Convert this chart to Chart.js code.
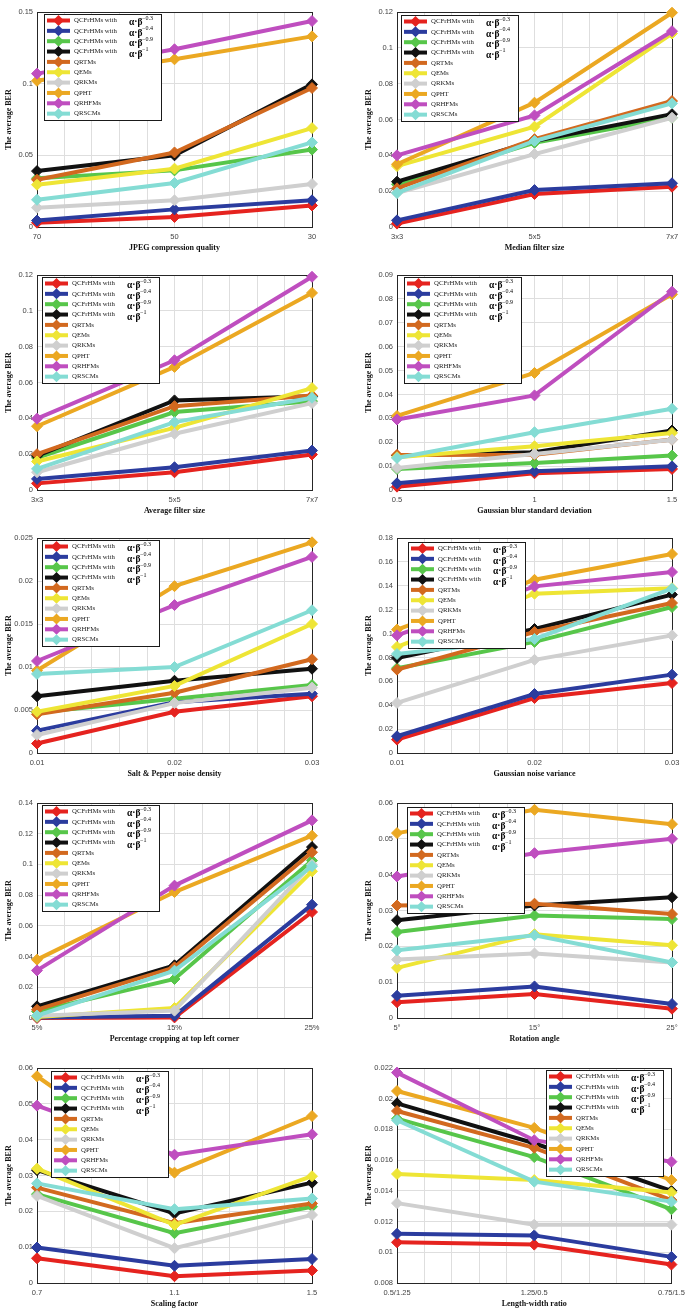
<!DOCTYPE html>
<html>
<head>
<meta charset="utf-8">
<script src="https://cdn.jsdelivr.net/npm/chart.js@4"></script>
<style>
  html, body { margin: 0; padding: 0; background: #fff; overflow: hidden; }
  #page { position: relative; width: 685px; height: 1309px; }
  .panel { position: absolute; }
</style>
</head>
<body>
<div id="page"></div>
<script>
// ---- series shared by every panel ----
const seriesNames = ['QCFrHMs with', 'QCFrHMs with', 'QCFrHMs with', 'QCFrHMs with',
  'QRTMs', 'QEMs', 'QRKMs', 'QPHT', 'QRHFMs', 'QRSCMs'];
const betaPowers = ['\u22120.3', '\u22120.4', '\u22120.9', '\u22121'];
const seriesColors = ['#E5231F', '#2B3C9E', '#57C64A', '#111111', '#D2691F',
  '#EEE535', '#CFCFCF', '#EBA822', '#BF4EBF', '#84DCD4'];
const xPositions = [1, 2, 3];

// ---- JPEG compression ----
const jpegTicks = ['70', '50', '30'];
const jpegRange = [0, 0.15, 0.05];
const jpegBer = [
  [0.003, 0.007, 0.015],
  [0.0045, 0.0123, 0.0186],
  [0.034, 0.0395, 0.054],
  [0.039, 0.050, 0.0995],
  [0.033, 0.052, 0.097],
  [0.0295, 0.0407, 0.069],
  [0.0135, 0.0186, 0.030],
  [0.102, 0.117, 0.133],
  [0.107, 0.124, 0.1437],
  [0.019, 0.0307, 0.059]
];

// ---- median filter ----
const medianTicks = ['3x3', '5x5', '7x7'];
const medianRange = [0, 0.12, 0.02];
const medianBer = [
  [0.0019, 0.0184, 0.0225],
  [0.0037, 0.0206, 0.0244],
  [0.0238, 0.047, 0.061],
  [0.0253, 0.048, 0.063],
  [0.0216, 0.049, 0.0703],
  [0.034, 0.056, 0.108],
  [0.019, 0.0407, 0.061],
  [0.035, 0.0694, 0.1196],
  [0.040, 0.0623, 0.1093],
  [0.019, 0.048, 0.069]
];

// ---- average filter ----
const averageTicks = ['3x3', '5x5', '7x7'];
const averageRange = [0, 0.12, 0.02];
const averageBer = [
  [0.0037, 0.0099, 0.0198],
  [0.0062, 0.0127, 0.022],
  [0.018, 0.0435, 0.0496],
  [0.019, 0.050, 0.0523],
  [0.020, 0.0468, 0.0528],
  [0.0159, 0.0347, 0.0569],
  [0.0099, 0.0314, 0.0485],
  [0.0356, 0.0687, 0.110],
  [0.0398, 0.0724, 0.119],
  [0.0118, 0.0379, 0.0515]
];

// ---- gaussian blur ----
const blurTicks = ['0.5', '1', '1.5'];
const blurRange = [0, 0.09, 0.01];
const blurBer = [
  [0.0014, 0.007, 0.0088],
  [0.0028, 0.0078, 0.0099],
  [0.0088, 0.0113, 0.0144],
  [0.0144, 0.0158, 0.0249],
  [0.0147, 0.0148, 0.0211],
  [0.0137, 0.0183, 0.0239],
  [0.0092, 0.0151, 0.021],
  [0.031, 0.049, 0.0819],
  [0.0295, 0.0396, 0.083],
  [0.0134, 0.0242, 0.034]
];

// ---- salt & pepper ----
const saltTicks = ['0.01', '0.02', '0.03'];
const saltRange = [0, 0.025, 0.005];
const saltBer = [
  [0.0011, 0.0048, 0.0066],
  [0.0026, 0.0059, 0.0069],
  [0.0047, 0.0063, 0.0079],
  [0.0066, 0.0084, 0.0098],
  [0.0045, 0.007, 0.0109],
  [0.0048, 0.0078, 0.015],
  [0.0021, 0.0058, 0.0076],
  [0.0096, 0.0194, 0.0245],
  [0.0107, 0.0172, 0.0228],
  [0.0092, 0.010, 0.0166]
];

// ---- gaussian noise ----
const noiseTicks = ['0.01', '0.02', '0.03'];
const noiseRange = [0, 0.18, 0.02];
const noiseBer = [
  [0.0112, 0.046, 0.0586],
  [0.014, 0.0494, 0.0656],
  [0.071, 0.093, 0.1222],
  [0.0795, 0.1038, 0.1326],
  [0.0698, 0.1013, 0.1256],
  [0.0888, 0.1334, 0.138],
  [0.0419, 0.078, 0.0985],
  [0.1033, 0.145, 0.1666],
  [0.0985, 0.1395, 0.1515],
  [0.0829, 0.0955, 0.1376]
];

// ---- cropping ----
const cropTicks = ['5%', '15%', '25%'];
const cropRange = [0, 0.14, 0.02];
const cropBer = [
  [0.0, 0.0004, 0.069],
  [0.0004, 0.0015, 0.0738],
  [0.0043, 0.0254, 0.1025],
  [0.0076, 0.0343, 0.1113],
  [0.0054, 0.033, 0.1079],
  [0.0007, 0.0065, 0.0955],
  [0.0015, 0.0048, 0.0998],
  [0.038, 0.082, 0.1187],
  [0.031, 0.0862, 0.1287],
  [0.0015, 0.0308, 0.0988]
];

// ---- rotation ----
const rotationTicks = ['5\u00B0', '15\u00B0', '25\u00B0'];
const rotationRange = [0, 0.06, 0.01];
const rotationBer = [
  [0.0044, 0.0067, 0.0026],
  [0.0062, 0.0088, 0.0039],
  [0.024, 0.0286, 0.0276],
  [0.0273, 0.0314, 0.0337],
  [0.0314, 0.0319, 0.029],
  [0.014, 0.0234, 0.0203],
  [0.0163, 0.018, 0.0155],
  [0.0516, 0.0581, 0.0541],
  [0.0395, 0.046, 0.050],
  [0.0189, 0.0231, 0.0155]
];

// ---- scaling ----
const scalingTicks = ['0.7', '1.1', '1.5'];
const scalingRange = [0, 0.06, 0.01];
const scalingBer = [
  [0.0069, 0.0019, 0.0035],
  [0.0099, 0.0048, 0.0067],
  [0.0248, 0.0139, 0.0213],
  [0.0315, 0.0194, 0.028],
  [0.0266, 0.0167, 0.0222],
  [0.0319, 0.0162, 0.0298],
  [0.0243, 0.0097, 0.019],
  [0.0577, 0.0308, 0.0466],
  [0.0495, 0.0358, 0.0415],
  [0.0278, 0.0206, 0.0236]
];

// ---- length-width ratio ----
const ratioTicks = ['0.5/1.25', '1.25/0.5', '0.75/1.5'];
const ratioRange = [0.008, 0.022, 0.002];
const ratioBer = [
  [0.01065, 0.0105, 0.0092],
  [0.0112, 0.0111, 0.0097],
  [0.0187, 0.0162, 0.0128],
  [0.0197, 0.0171, 0.014],
  [0.0192, 0.0168, 0.0134],
  [0.0151, 0.0147, 0.0139],
  [0.0132, 0.0118, 0.0118],
  [0.0205, 0.0181, 0.0147],
  [0.0217, 0.0173, 0.0159],
  [0.0186, 0.0146, 0.0133]
];

// layout: [title, ticks, range, values, column, row, legend side, legend dx, legend dy]
const panels = [
  ['JPEG compression quality', jpegTicks, jpegRange, jpegBer, 0, 0, 'left', 7, 2],
  ['Median filter size', medianTicks, medianRange, medianBer, 1, 0, 'left', 4, 3],
  ['Average filter size', averageTicks, averageRange, averageBer, 0, 1, 'left', 5, 2],
  ['Gaussian blur standard deviation', blurTicks, blurRange, blurBer, 1, 1, 'left', 7, 2],
  ['Salt & Pepper noise density', saltTicks, saltRange, saltBer, 0, 2, 'left', 5, 2],
  ['Gaussian noise variance', noiseTicks, noiseRange, noiseBer, 1, 2, 'left', 11, 4],
  ['Percentage cropping at top left corner', cropTicks, cropRange, cropBer, 0, 3, 'left', 5, 2],
  ['Rotation angle', rotationTicks, rotationRange, rotationBer, 1, 3, 'left', 10, 4],
  ['Scaling factor', scalingTicks, scalingRange, scalingBer, 0, 4, 'left', 14, 3],
  ['Length-width ratio', ratioTicks, ratioRange, ratioBer, 1, 4, 'right', 8, 2]
];

const rowTops = [0, 263, 526, 791, 1056];
const colLefts = [0, 360];
const page = document.getElementById('page');

const axesBox = {
  id: 'axesBox',
  beforeDatasetsDraw(chart) {
    const a = chart.chartArea, ctx = chart.ctx;
    ctx.save();
    ctx.strokeStyle = '#262626';
    ctx.lineWidth = 1;
    ctx.strokeRect(Math.round(a.left) + 0.5, Math.round(a.top) + 0.5,
      Math.round(a.right - a.left), Math.round(a.bottom - a.top));
    ctx.restore();
  }
};

function legendPlugin(side, dx, dy) {
  return {
    id: 'berLegend',
    afterDatasetsDraw(chart) {
      const ctx = chart.ctx, a = chart.chartArea;
      const w = 117, h = 106;
      const x0 = Math.round(side === 'right' ? a.right - dx - w : a.left + dx);
      const y0 = Math.round(a.top + dy);
      ctx.save();
      ctx.fillStyle = '#fff';
      ctx.fillRect(x0, y0, w, h);
      ctx.strokeStyle = '#1a1a1a';
      ctx.lineWidth = 1;
      ctx.strokeRect(x0 + 0.5, y0 + 0.5, w, h);
      chart.data.datasets.forEach((ds, i) => {
        const cy = y0 + 6.5 + i * 10.35;
        ctx.strokeStyle = ds.borderColor;
        ctx.lineWidth = 4;
        ctx.beginPath();
        ctx.moveTo(x0 + 3, cy);
        ctx.lineTo(x0 + 26, cy);
        ctx.stroke();
        ctx.fillStyle = ds.borderColor;
        ctx.beginPath();
        ctx.moveTo(x0 + 14.5, cy - 5.5);
        ctx.lineTo(x0 + 20, cy);
        ctx.lineTo(x0 + 14.5, cy + 5.5);
        ctx.lineTo(x0 + 9, cy);
        ctx.closePath();
        ctx.fill();
        ctx.fillStyle = '#222';
        ctx.textAlign = 'left';
        ctx.textBaseline = 'middle';
        ctx.font = '6.8px "Liberation Serif"';
        ctx.fillText(ds.label, x0 + 30, cy);
        if (i < betaPowers.length) {
          ctx.fillStyle = '#000';
          ctx.font = 'bold 9.5px "Liberation Serif"';
          ctx.fillText('\u03B1\u00B7\u03B2', x0 + 85, cy + 2.5);
          ctx.font = '6px "Liberation Serif"';
          ctx.fillText(betaPowers[i], x0 + 98, cy - 2);
        }
      });
      ctx.restore();
    }
  };
}

function fmt(v) {
  return String(+(+v).toFixed(5));
}

panels.forEach(([title, ticks, range, values, col, row, side, dx, dy]) => {
  const width = 330;
  const height = 257;
  const div = document.createElement('div');
  div.className = 'panel';
  div.style.left = colLefts[col] + 'px';
  div.style.top = rowTops[row] + 'px';
  div.style.width = width + 'px';
  div.style.height = height + 'px';
  const canvas = document.createElement('canvas');
  canvas.width = width;
  canvas.height = height;
  div.appendChild(canvas);
  page.appendChild(div);

  const n = seriesNames.length;
  const datasets = seriesNames.map((name, i) => ({
    label: name,
    data: xPositions.map((x, j) => ({ x: x, y: values[i][j] })),
    borderColor: seriesColors[i],
    backgroundColor: seriesColors[i],
    borderWidth: 4,
    pointStyle: 'rectRot',
    pointRadius: 5.5,
    pointBorderWidth: 1,
    pointBackgroundColor: seriesColors[i],
    pointBorderColor: seriesColors[i],
    tension: 0,
    clip: false,
    order: n - i
  }));

  new Chart(canvas, {
    type: 'line',
    data: { datasets },
    options: {
      responsive: false,
      animation: false,
      layout: { padding: { top: 12, right: 18, left: 0, bottom: 0 } },
      plugins: { legend: { display: false }, tooltip: { enabled: false } },
      scales: {
        x: {
          type: 'linear',
          min: 1, max: 3,
          afterFit: s => { s.height = 30; },
          border: { display: false },
          grid: { color: '#dedede', lineWidth: 1, drawTicks: false },
          ticks: {
            stepSize: 0.2, autoSkip: false, maxRotation: 0, padding: 5,
            color: '#444', font: { family: 'Liberation Sans', size: 7.5 },
            callback: v => {
              const k = Math.round(v);
              return Math.abs(v - k) < 1e-6 ? ticks[k - 1] : '';
            }
          },
          title: {
            display: true, text: title, color: '#111',
            font: { family: 'Liberation Serif', size: 8, weight: 'bold' },
            padding: { top: 0, bottom: 4 }
          }
        },
        y: {
          min: range[0], max: range[1],
          afterFit: s => { s.width = 37; },
          border: { display: false },
          grid: { color: '#dedede', lineWidth: 1, drawTicks: false },
          ticks: {
            stepSize: range[2], padding: 4,
            color: '#444', font: { family: 'Liberation Sans', size: 7.5 },
            callback: v => fmt(v)
          },
          title: {
            display: true, text: 'The average BER', color: '#111',
            font: { family: 'Liberation Serif', size: 8, weight: 'bold' },
            padding: { top: 4, bottom: 0 }
          }
        }
      }
    },
    plugins: [axesBox, legendPlugin(side, dx, dy)]
  });
});
</script>
</body>
</html>
